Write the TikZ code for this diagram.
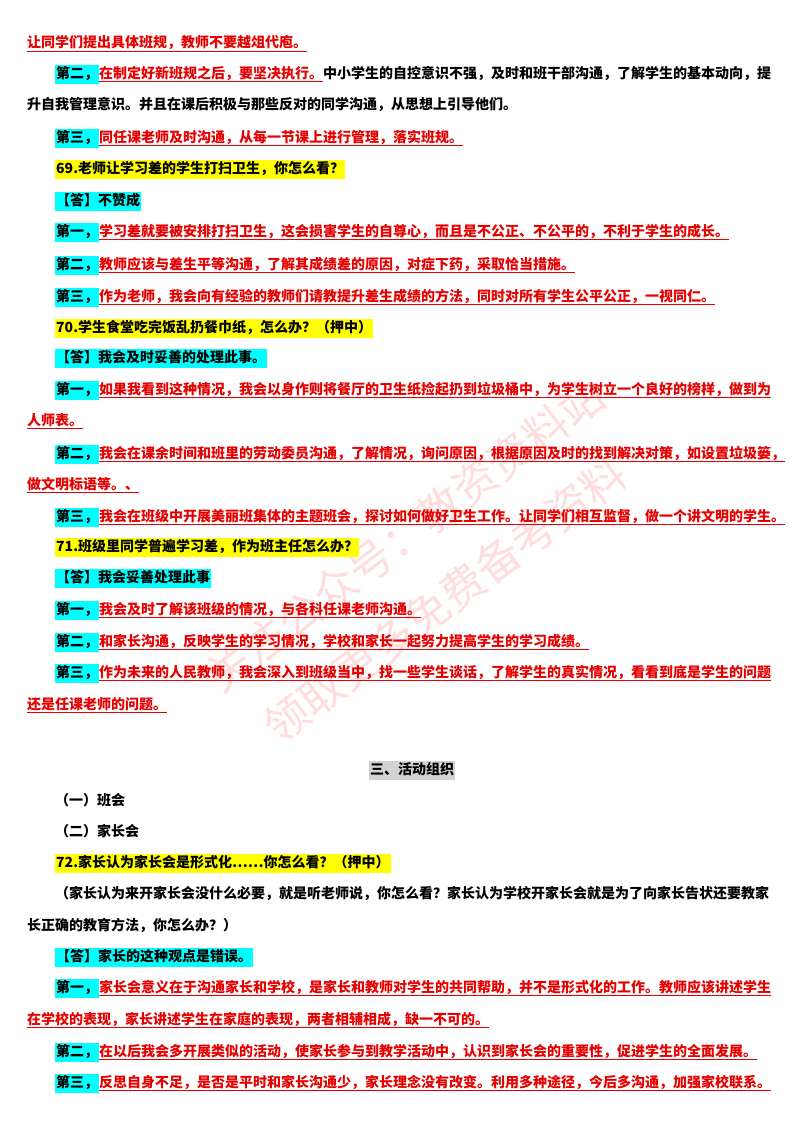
\documentclass[tikz,border=0pt]{standalone}
\usepackage{fontspec}
\setmainfont{Noto Sans CJK SC}
\usepackage{xcolor}
\definecolor{hlcyan}{RGB}{0,255,255}
\definecolor{hlyellow}{RGB}{255,255,0}
\definecolor{hlgrey}{RGB}{210,210,210}
\definecolor{ansred}{RGB}{230,0,0}
\newcommand{\hlbox}[2]{{\setlength\fboxsep{1pt}\colorbox{#1}{\strut #2}}}
\newcommand{\cy}[1]{\hlbox{hlcyan}{#1}}
\newcommand{\yl}[1]{\hlbox{hlyellow}{#1}}
\newcommand{\rd}[1]{\textcolor{ansred}{\underline{#1}}}
\begin{document}
\begin{tikzpicture}[
        x=1pt, y=-1pt,
        line/.style={
            anchor=base west,
            inner sep=0pt,
            font=\fontsize{14}{16}\selectfont\bfseries,
        },
        wmark/.style={
            font=\fontsize{44}{48}\selectfont,
            text=red!22,
            opacity=0.6,
            rotate=37,
        },
    ]

    \useasboundingbox[fill=white] (0,0) rectangle (800,1132);

    % watermark
    \node[wmark] (wm1) at (405,535) {关注公众号：教资资料站};
    \node[wmark] (wm2) at (445,600) {领取更多免费备考资料};

    \node[line] (l1)  at (27,48)   {\rd{让同学们提出具体班规，教师不要越俎代庖。}};
    \node[line] (l2)  at (55,78)   {\cy{第二，}\rd{在制定好新班规之后，要坚决执行。}中小学生的自控意识不强，及时和班干部沟通，了解学生的基本动向，提};
    \node[line] (l3)  at (27,109)  {升自我管理意识。并且在课后积极与那些反对的同学沟通，从思想上引导他们。};
    \node[line] (l4)  at (55,142)  {\cy{第三，}\rd{同任课老师及时沟通，从每一节课上进行管理，落实班规。}};
    \node[line] (l5)  at (55,173)  {\yl{69.老师让学习差的学生打扫卫生，你怎么看？}};
    \node[line] (l6)  at (55,205)  {\cy{【答】不赞成}};
    \node[line] (l7)  at (55,236)  {\cy{第一，}\rd{学习差就要被安排打扫卫生，这会损害学生的自尊心，而且是不公正、不公平的，不利于学生的成长。}};
    \node[line] (l8)  at (55,269)  {\cy{第二，}\rd{教师应该与差生平等沟通，了解其成绩差的原因，对症下药，采取恰当措施。}};
    \node[line] (l9)  at (55,301)  {\cy{第三，}\rd{作为老师，我会向有经验的教师们请教提升差生成绩的方法，同时对所有学生公平公正，一视同仁。}};
    \node[line] (l10) at (55,332)  {\yl{70.学生食堂吃完饭乱扔餐巾纸，怎么办？（押中）}};
    \node[line] (l11) at (55,362)  {\cy{【答】我会及时妥善的处理此事。}};
    \node[line] (l12) at (55,394)  {\cy{第一，}\rd{如果我看到这种情况，我会以身作则将餐厅的卫生纸捡起扔到垃圾桶中，为学生树立一个良好的榜样，做到为}};
    \node[line] (l13) at (27,425)  {\rd{人师表。}};
    \node[line] (l14) at (55,458)  {\cy{第二，}\rd{我会在课余时间和班里的劳动委员沟通，了解情况，询问原因，根据原因及时的找到解决对策，如设置垃圾篓，}};
    \node[line] (l15) at (27,489)  {\rd{做文明标语等。、}};
    \node[line] (l16) at (55,521)  {\cy{第三，}\rd{我会在班级中开展美丽班集体的主题班会，探讨如何做好卫生工作。让同学们相互监督，做一个讲文明的学生。}};
    \node[line] (l17) at (55,551)  {\yl{71.班级里同学普遍学习差，作为班主任怎么办？}};
    \node[line] (l18) at (55,582)  {\cy{【答】我会妥善处理此事}};
    \node[line] (l19) at (55,614)  {\cy{第一，}\rd{我会及时了解该班级的情况，与各科任课老师沟通。}};
    \node[line] (l20) at (55,646)  {\cy{第二，}\rd{和家长沟通，反映学生的学习情况，学校和家长一起努力提高学生的学习成绩。}};
    \node[line] (l21) at (55,677)  {\cy{第三，}\rd{作为未来的人民教师，我会深入到班级当中，找一些学生谈话，了解学生的真实情况，看看到底是学生的问题}};
    \node[line] (l22) at (27,709)  {\rd{还是任课老师的问题。}};
    \node[line] (l23) at (369,774) {\hlbox{hlgrey}{三、活动组织}};
    \node[line] (l24) at (55,805)  {（一）班会};
    \node[line] (l25) at (55,836)  {（二）家长会};
    \node[line] (l26) at (55,867)  {\yl{72.家长认为家长会是形式化……你怎么看？（押中）}};
    \node[line] (l27) at (55,898)  {（家长认为来开家长会没什么必要，就是听老师说，你怎么看？家长认为学校开家长会就是为了向家长告状还要教家};
    \node[line] (l28) at (27,930)  {长正确的教育方法，你怎么办？）};
    \node[line] (l29) at (55,961)  {\cy{【答】家长的这种观点是错误。}};
    \node[line] (l30) at (55,992)  {\cy{第一，}\rd{家长会意义在于沟通家长和学校，是家长和教师对学生的共同帮助，并不是形式化的工作。教师应该讲述学生}};
    \node[line] (l31) at (27,1024) {\rd{在学校的表现，家长讲述学生在家庭的表现，两者相辅相成，缺一不可的。}};
    \node[line] (l32) at (55,1056) {\cy{第二，}\rd{在以后我会多开展类似的活动，使家长参与到教学活动中，认识到家长会的重要性，促进学生的全面发展。}};
    \node[line] (l33) at (55,1087) {\cy{第三，}\rd{反思自身不足，是否是平时和家长沟通少，家长理念没有改变。利用多种途径，今后多沟通，加强家校联系。}};

\end{tikzpicture}
\end{document}
